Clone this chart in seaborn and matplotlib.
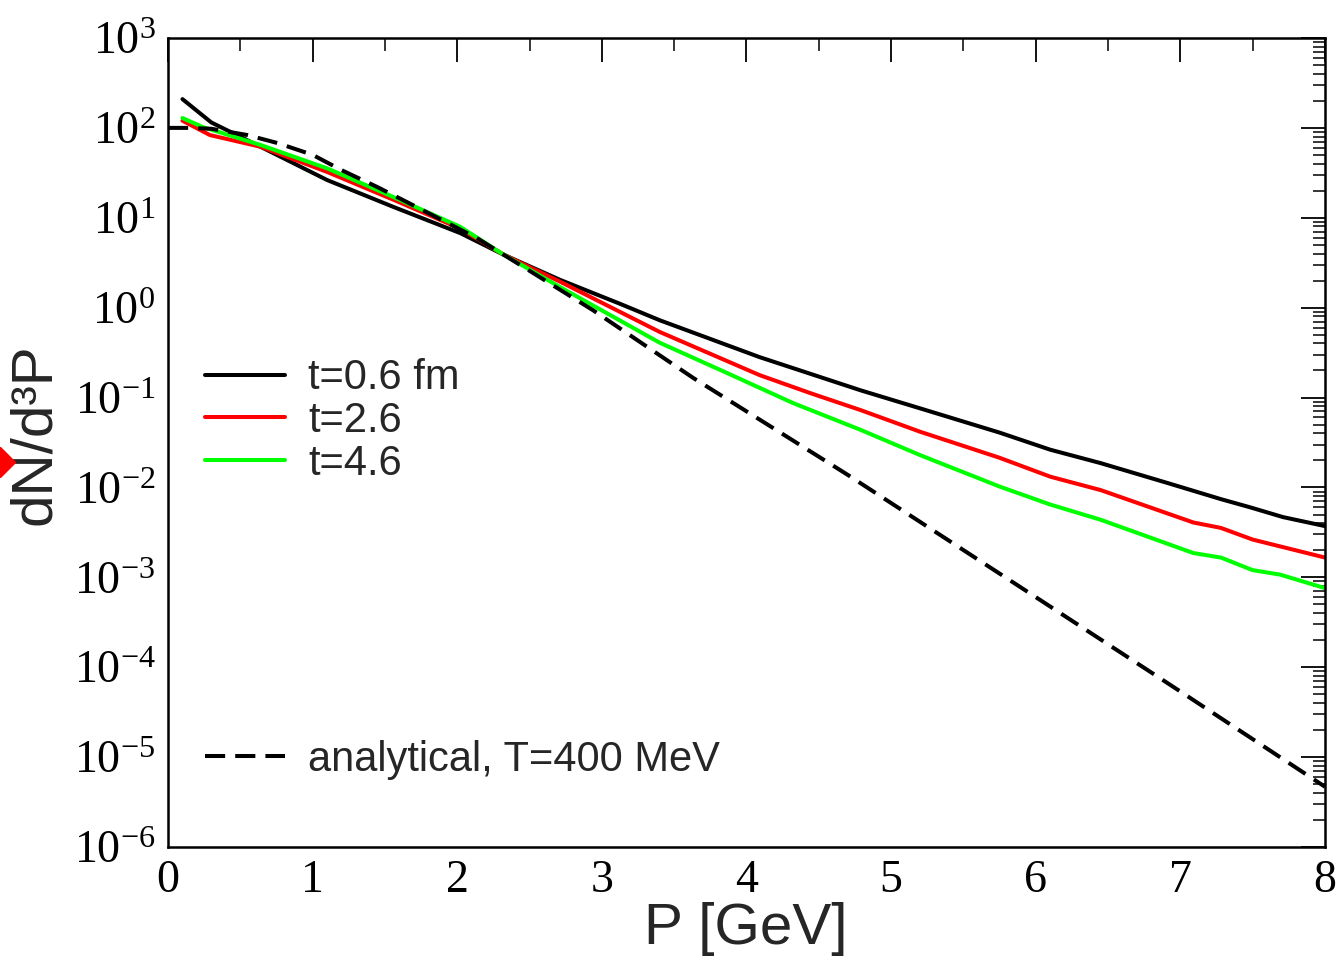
import numpy as np
import pandas as pd
import matplotlib
matplotlib.use("Agg")
import matplotlib.pyplot as plt
import matplotlib.ticker as mticker
from matplotlib.lines import Line2D
import seaborn as sns

# ---- data (P in GeV, log10 of dN/d3P) ----
p_t06 = [0.1, 0.3, 0.64, 1.1, 1.56, 2.02, 2.32, 2.71, 3.13, 3.40, 4.09, 4.79,
         5.20, 5.75, 6.10, 6.45, 6.91, 7.28, 7.48, 7.71, 8.0]
lg_t06 = [2.32, 2.06, 1.79, 1.42, 1.12, 0.83, 0.59, 0.31, 0.04, -0.14, -0.55, -0.92,
          -1.12, -1.39, -1.58, -1.73, -1.95, -2.13, -2.22, -2.33, -2.43]

p_t26 = [0.1, 0.29, 0.64, 1.1, 1.56, 2.02, 2.32, 2.71, 3.40, 4.09, 4.44, 4.79,
         5.20, 5.75, 6.10, 6.45, 7.09, 7.28, 7.50, 8.0]
lg_t26 = [2.08, 1.92, 1.79, 1.51, 1.20, 0.88, 0.59, 0.29, -0.27, -0.75, -0.95, -1.14,
          -1.38, -1.67, -1.88, -2.03, -2.39, -2.45, -2.58, -2.78]

p_t46 = [0.1, 0.24, 0.64, 1.1, 1.56, 2.02, 2.32, 2.71, 3.40, 3.87, 4.32, 4.79,
         5.20, 5.75, 6.10, 6.45, 7.09, 7.28, 7.50, 7.69, 8.0]
lg_t46 = [2.11, 2.01, 1.81, 1.55, 1.23, 0.90, 0.59, 0.23, -0.39, -0.73, -1.06, -1.36,
          -1.64, -1.99, -2.19, -2.36, -2.73, -2.78, -2.92, -2.97, -3.12]

p_ana = [0.0, 0.15, 0.30, 0.55, 0.76, 1.0, 1.2, 1.45, 1.67, 1.90, 2.14, 2.32, 2.59,
         2.94, 3.63, 4.70, 6.0, 7.0, 8.0]
lg_ana = [2.0, 2.0, 1.99, 1.92, 1.83, 1.70, 1.53, 1.34, 1.16, 0.97, 0.77, 0.59, 0.32,
          -0.03, -0.78, -1.86, -3.22, -4.27, -5.33]

labels = ["t=0.6 fm", "t=2.6", "t=4.6", "analytical, T=400 MeV"]
colors = ["black", "#ff0000", "#00ff00", "black"]

x_ticks = [0, 1, 2, 3, 4, 5, 6, 7, 8]
y_exponents = [-6, -5, -4, -3, -2, -1, 0, 1, 2, 3]

# ---- style ----
sns.set_style("white")
plt.rcParams["font.family"] = ["Liberation Serif", "DejaVu Serif"]
plt.rcParams["mathtext.fontset"] = "custom"
plt.rcParams["mathtext.rm"] = "Liberation Serif"
plt.rcParams["mathtext.it"] = "Liberation Serif:italic"
plt.rcParams["mathtext.bf"] = "Liberation Serif:bold"

fig = plt.figure(figsize=(13.4, 9.65), dpi=100)
ax = fig.add_axes([168 / 1340, 1 - 847 / 965, (1325 - 168) / 1340, (847 - 38) / 965])

series = [(p_t06, lg_t06), (p_t26, lg_t26), (p_t46, lg_t46), (p_ana, lg_ana)]
for (px, lg), lab, col in zip(series, labels, colors):
    df = pd.DataFrame({"P": px, "dN": np.power(10.0, lg)})
    sns.lineplot(data=df, x="P", y="dN", ax=ax, color=col, lw=2.9,
                 estimator=None, sort=False, label=lab)

lines = ax.get_lines()
lines[3].set_linestyle((0, (5.0, 2.5)))

if ax.get_legend() is not None:
    ax.get_legend().remove()

ax.set_yscale("log")
ax.set_xlim(0, 8)
ax.set_ylim(1e-6, 1e3)

ax.set_xticks(x_ticks)
ax.set_xticklabels([str(v) for v in x_ticks])
ax.xaxis.set_minor_locator(mticker.MultipleLocator(0.5))
ax.set_yticks([10.0 ** e for e in y_exponents])
ax.set_yticklabels([r"$\mathregular{10^{%d}}$" % e for e in y_exponents])
ax.yaxis.set_minor_locator(mticker.LogLocator(base=10, subs=np.arange(2, 10), numticks=100))
ax.yaxis.set_minor_formatter(mticker.NullFormatter())

ax.tick_params(which="both", direction="in", top=True, right=True, colors="black")
ax.tick_params(which="major", length=17, width=1.3, labelsize=33, pad=9)
ax.tick_params(which="minor", length=9, width=1.1)
for s in ax.spines.values():
    s.set_linewidth(1.8)
    s.set_color("black")

ax.set_xlabel("P [GeV]", fontsize=42, family="Liberation Sans")
ax.set_ylabel("dN/d³P", fontsize=42, family="Liberation Sans")
ax.xaxis.set_label_coords(0.499, -0.068)
ax.yaxis.set_label_coords(-0.092, 0.51)

leg_kw = dict(loc="center left", frameon=False, borderpad=0, borderaxespad=0,
              handlelength=1.92, handletextpad=0.55,
              prop={"family": "Liberation Sans", "size": 30})
leg1 = ax.legend(handles=lines[:3], labels=labels[:3], bbox_to_anchor=(0.032, 0.5265),
                 labelspacing=0.07, **leg_kw)
ax.add_artist(leg1)
ax.legend(handles=[lines[3]], labels=[labels[3]], bbox_to_anchor=(0.032, 0.1075), **leg_kw)

# red diamond marker clipped at the left edge of the figure
fig.add_artist(Line2D([0.0], [1 - 462 / 965], marker="D", color="#ff0000",
                      markersize=15, linestyle="none", transform=fig.transFigure))

fig.savefig("out.png", dpi=100)
